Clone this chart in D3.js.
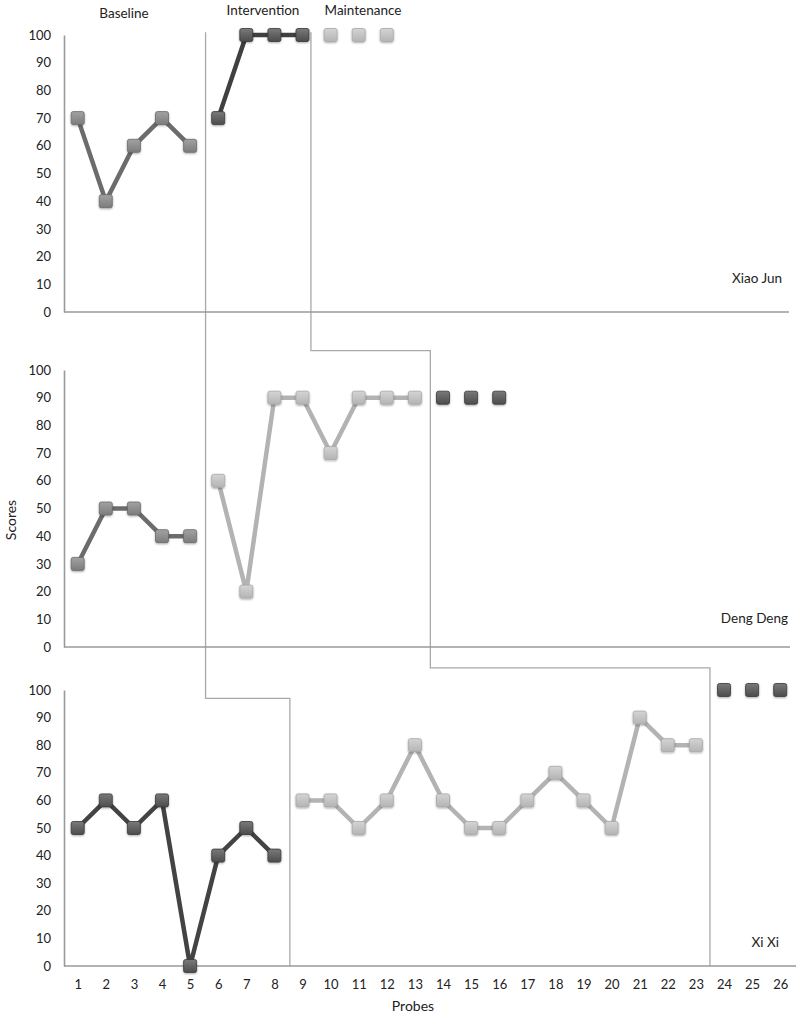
<!DOCTYPE html>
<html lang="en">
  <head>
    <meta charset="UTF-8" />
    <title>Scores by probe</title>
    <script src="https://cdn.jsdelivr.net/npm/d3@7"></script>
    <style>
      body {
        margin: 0;
        background: #fff;
      }
      svg {
        font-family: Lato, "Open Sans", sans-serif;
      }
      text {
        fill: #222;
      }
    </style>
  </head>
  <body>
    <script>
      // data
      const probes = d3.range(1, 27);
      const yTicks = d3.range(0, 101, 10);
      const phaseNames = ["Baseline", "Intervention", "Maintenance"];
      const students = ["Xiao Jun", "Deng Deng", "Xi Xi"];

      // first probe of each phase per student
      const xiaoJunStarts = [1, 6, 10];
      const xiaoJunBaseline = [70, 40, 60, 70, 60];
      const xiaoJunIntervention = [70, 100, 100, 100];
      const xiaoJunMaintenance = [100, 100, 100];

      const dengDengStarts = [1, 6, 14];
      const dengDengBaseline = [30, 50, 50, 40, 40];
      const dengDengIntervention = [60, 20, 90, 90, 70, 90, 90, 90];
      const dengDengMaintenance = [90, 90, 90];

      const xiXiStarts = [1, 9, 24];
      const xiXiBaseline = [50, 60, 50, 60, 0, 40, 50, 40];
      const xiXiIntervention = [60, 60, 50, 60, 80, 60, 50, 50, 60, 70, 60, 50, 90, 80, 80];
      const xiXiMaintenance = [100, 100, 100];

      // phase change lines: [probe, panel, score]
      const phaseLineA = [[5.55, 0, 101], [5.55, 2, 97], [8.55, 2, 97], [8.55, 2, 0]];
      const phaseLineB = [[9.3, 0, 101], [9.3, 1, 107], [13.55, 1, 107], [13.55, 2, 108], [23.5, 2, 108], [23.5, 2, 0]];

      const width = 800;
      const height = 1017;
      const axisLeft = 64;
      const panels = [
        { top: 35, bottom: 312, axisEnd: 789, label: students[0], lx: 782, ly: 283,
          starts: xiaoJunStarts, series: [xiaoJunBaseline, xiaoJunIntervention, xiaoJunMaintenance],
          shades: ["mid", "dark", "light"], lines: ["#6c6c6c", "#404040", null] },
        { top: 370, bottom: 647, axisEnd: 790, label: students[1], lx: 788, ly: 623,
          starts: dengDengStarts, series: [dengDengBaseline, dengDengIntervention, dengDengMaintenance],
          shades: ["mid", "light", "dark"], lines: ["#6c6c6c", "#b3b3b3", null] },
        { top: 690, bottom: 966, axisEnd: 796, label: students[2], lx: 779, ly: 947,
          starts: xiXiStarts, series: [xiXiBaseline, xiXiIntervention, xiXiMaintenance],
          shades: ["dark", "light", "dark"], lines: ["#434343", "#b3b3b3", null] }
      ];

      const x = d3.scaleLinear().domain([1, 26]).range([77.7, 780.2]);
      panels.forEach(p => {
        p.y = d3.scaleLinear().domain([0, 100]).range([p.bottom, p.top]);
      });

      const svg = d3.select("body").append("svg").attr("width", width).attr("height", height);

      // marker gradients
      const shades = {
        light: ["#d4d4d4", "#b4b4b4", "#a8a8a8"],
        mid: ["#a2a2a2", "#7c7c7c", "#6a6a6a"],
        dark: ["#7a7a7a", "#4c4c4c", "#3a3a3a"]
      };
      const defs = svg.append("defs");
      Object.entries(shades).forEach(([k, c]) => {
        const g = defs.append("linearGradient").attr("id", "g-" + k)
          .attr("x1", 0).attr("y1", 0).attr("x2", 0).attr("y2", 1);
        g.append("stop").attr("offset", "0%").attr("stop-color", c[0]);
        g.append("stop").attr("offset", "100%").attr("stop-color", c[1]);
      });
      const blur = defs.append("filter").attr("id", "soft").attr("x", "-30%").attr("y", "-30%")
        .attr("width", "160%").attr("height", "160%");
      blur.append("feGaussianBlur").attr("in", "SourceAlpha").attr("stdDeviation", 1.2);
      blur.append("feOffset").attr("dy", 1).attr("result", "sh");
      blur.append("feComponentTransfer").append("feFuncA").attr("type", "linear").attr("slope", 0.35);
      const merge = blur.append("feMerge");
      merge.append("feMergeNode");
      merge.append("feMergeNode").attr("in", "SourceGraphic");

      // phase labels
      svg.append("text").attr("x", 124).attr("y", 18).attr("text-anchor", "middle")
        .style("font-size", "13.5px").text(phaseNames[0]);
      svg.append("text").attr("x", 263).attr("y", 15).attr("text-anchor", "middle")
        .style("font-size", "13.5px").text(phaseNames[1]);
      svg.append("text").attr("x", 363).attr("y", 15).attr("text-anchor", "middle")
        .style("font-size", "13.5px").text(phaseNames[2]);

      // phase change lines
      const phasePath = d3.line()
        .x(d => x(d[0]))
        .y(d => panels[d[1]].y(d[2]));
      [phaseLineA, phaseLineB].forEach(pts => {
        svg.append("path").attr("d", phasePath(pts))
          .attr("fill", "none").attr("stroke", "#a9a9a9").attr("stroke-width", 1.3);
      });

      panels.forEach(p => {
        const g = svg.append("g");

        // axes
        const yAxis = d3.axisLeft(p.y).tickValues(yTicks).tickSize(0).tickPadding(13);
        const ya = g.append("g").attr("transform", `translate(${axisLeft},0)`).call(yAxis);
        ya.select(".domain").attr("stroke", "#9a9a9a").attr("stroke-width", 1.6);
        ya.selectAll("text").style("font-size", "13px").attr("fill", "#222")
          .attr("font-family", "Lato, 'Open Sans', sans-serif");

        g.append("line").attr("x1", axisLeft).attr("x2", p.axisEnd)
          .attr("y1", p.y(0)).attr("y2", p.y(0))
          .attr("stroke", "#9a9a9a").attr("stroke-width", 1.6);

        // series
        p.series.forEach((vals, i) => {
          const pts = vals.map((v, j) => [p.starts[i] + j, v]);
          if (p.lines[i]) {
            g.append("path")
              .attr("d", d3.line().x(d => x(d[0])).y(d => p.y(d[1]))(pts))
              .attr("fill", "none").attr("stroke", p.lines[i])
              .attr("stroke-width", 4.5).attr("stroke-linejoin", "round");
          }
          g.selectAll(null).data(pts).enter().append("rect")
            .attr("x", d => x(d[0]) - 6.5).attr("y", d => p.y(d[1]) - 6.5)
            .attr("width", 13).attr("height", 13).attr("rx", 2)
            .attr("fill", `url(#g-${p.shades[i]})`)
            .attr("stroke", shades[p.shades[i]][2]).attr("stroke-width", 0.8)
            .attr("filter", "url(#soft)");
        });

        g.append("text").attr("x", p.lx).attr("y", p.ly).attr("text-anchor", "end")
          .style("font-size", "13.5px").text(p.label);
      });

      // x axis of the bottom panel
      const xAxis = d3.axisBottom(x).tickValues(probes).tickSize(0).tickPadding(14);
      const xa = svg.append("g").attr("transform", `translate(0,${panels[2].bottom})`).call(xAxis);
      xa.select(".domain").remove();
      xa.selectAll("text").style("font-size", "13px").attr("fill", "#222")
        .attr("font-family", "Lato, 'Open Sans', sans-serif");

      svg.append("text").attr("x", 413).attr("y", 1011).attr("text-anchor", "middle")
        .style("font-size", "14px").text("Probes");
      svg.append("text").attr("transform", "translate(16,520) rotate(-90)")
        .attr("text-anchor", "middle").style("font-size", "14px").text("Scores");
    </script>
  </body>
</html>
